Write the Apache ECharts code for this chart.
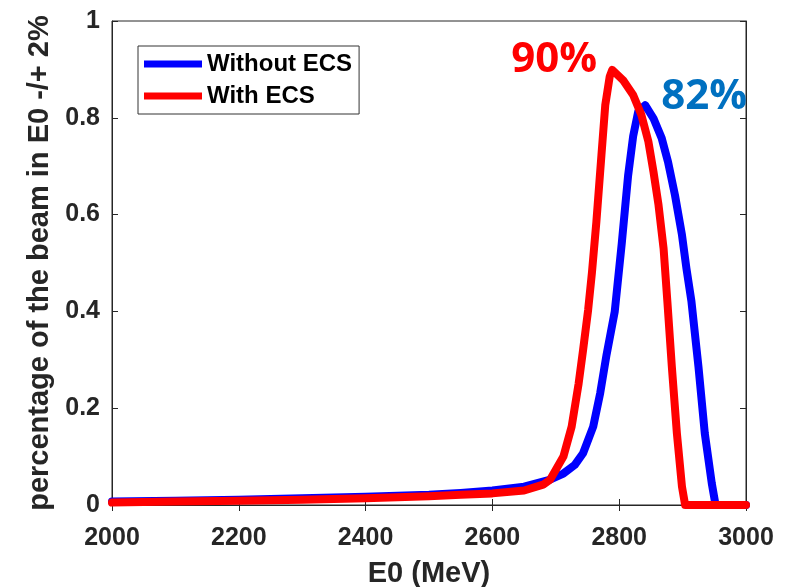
<!DOCTYPE html>
<html>
<head>
<meta charset="utf-8">
<script src="https://cdn.jsdelivr.net/npm/echarts@6/dist/echarts.min.js"></script>
<style>html,body{margin:0;padding:0;background:#fff;}#c{width:791px;height:587px;}</style>
</head>
<body>
<div id="c"></div>
<script>
// ---- data ----
const xTicks = [2000, 2200, 2400, 2600, 2800, 3000];
const yTicks = [0, 0.2, 0.4, 0.6, 0.8, 1];

const energyWithout = [2000, 2100, 2200, 2300, 2400, 2500, 2550, 2600, 2650, 2690, 2712, 2730, 2743, 2759, 2770, 2780, 2793, 2804, 2814, 2822, 2830, 2841, 2854, 2867, 2877, 2888, 2899, 2906, 2914, 2925, 2935, 2946, 2952, 2975, 3000];
const beamWithout  = [0.007, 0.009, 0.011, 0.014, 0.017, 0.021, 0.025, 0.030, 0.038, 0.052, 0.065, 0.083, 0.107, 0.162, 0.231, 0.310, 0.400, 0.540, 0.680, 0.762, 0.813, 0.826, 0.799, 0.758, 0.709, 0.640, 0.558, 0.489, 0.420, 0.286, 0.148, 0.045, 0, 0, 0];

const energyWith = [2000, 2100, 2200, 2300, 2400, 2500, 2550, 2600, 2650, 2680, 2691, 2712, 2725, 2736, 2743, 2751, 2757, 2764, 2772, 2778, 2785, 2789, 2806, 2822, 2835, 2846, 2854, 2862, 2870, 2876, 2883, 2891, 2899, 2904, 2950, 3000];
const beamWith   = [0.005, 0.007, 0.009, 0.011, 0.014, 0.018, 0.021, 0.024, 0.030, 0.042, 0.052, 0.100, 0.162, 0.251, 0.320, 0.403, 0.480, 0.585, 0.723, 0.826, 0.885, 0.899, 0.878, 0.847, 0.806, 0.751, 0.689, 0.620, 0.530, 0.420, 0.286, 0.148, 0.038, 0, 0, 0];

const seriesNames = ['Without ECS', 'With ECS'];
const peakLabels = ['82%', '90%'];

const pairs = (xs, ys) => xs.map((x, i) => [x, ys[i]]);

const axisColor = '#262626';
const tickFont = {fontFamily: 'Liberation Sans, Arial, sans-serif', fontWeight: 'bold', fontSize: 25, color: axisColor};

const chart = echarts.init(document.getElementById('c'), null, {renderer: 'canvas'});
chart.setOption({
  backgroundColor: '#ffffff',
  animation: false,
  grid: {left: 112, right: 45, top: 21, bottom: 82, show: true, borderColor: axisColor, borderWidth: 1, backgroundColor: 'transparent', containLabel: false, outerBoundsMode: 'none'},
  legend: {
    left: 138, top: 46, orient: 'vertical',
    data: seriesNames,
    icon: 'rect', itemWidth: 58, itemHeight: 7, itemGap: 8, itemTextGap: 6,
    padding: [6, 7, 6, 6],
    borderColor: '#333', borderWidth: 1, backgroundColor: '#fff',
    textStyle: {fontFamily: 'Liberation Sans, Arial, sans-serif', fontWeight: 'bold', fontSize: 24, color: '#000', lineHeight: 24}
  },
  xAxis: [{
    type: 'value', min: 2000, max: 3000, interval: 200,
    name: 'E0 (MeV)', nameLocation: 'middle', nameGap: 54,
    nameTextStyle: {fontFamily: 'Liberation Sans, Arial, sans-serif', fontWeight: 'bold', fontSize: 29, color: axisColor},
    axisLine: {show: true, onZero: false, lineStyle: {color: axisColor}},
    axisTick: {show: true, inside: true, length: 6, lineStyle: {color: axisColor}},
    axisLabel: Object.assign({margin: 21, formatter: v => xTicks.includes(v) ? String(v) : ''}, tickFont),
    splitLine: {show: false}
  }, {
    type: 'value', min: 2000, max: 3000, interval: 200, position: 'top',
    axisLine: {show: true, lineStyle: {color: axisColor}},
    axisTick: {show: true, inside: true, length: 6, lineStyle: {color: axisColor}},
    axisLabel: {show: false}, splitLine: {show: false}
  }],
  yAxis: [{
    type: 'value', min: 0, max: 1, interval: 0.2,
    name: 'percentage of the beam in E0 -/+ 2%', nameLocation: 'middle', nameGap: 45,
    nameTextStyle: {fontFamily: 'Liberation Sans, Arial, sans-serif', fontWeight: 'bold', fontSize: 29, color: axisColor},
    axisLine: {show: true, onZero: false, lineStyle: {color: axisColor}},
    axisTick: {show: true, inside: true, length: 6, lineStyle: {color: axisColor}},
    axisLabel: Object.assign({margin: 12, formatter: v => { const t = yTicks.find(k => Math.abs(k - v) < 1e-9); return t === undefined ? '' : String(t); }}, tickFont),
    splitLine: {show: false}
  }, {
    type: 'value', min: 0, max: 1, interval: 0.2, position: 'right',
    axisLine: {show: true, lineStyle: {color: axisColor}},
    axisTick: {show: true, inside: true, length: 6, lineStyle: {color: axisColor}},
    axisLabel: {show: false}, splitLine: {show: false}
  }],
  series: [{
    name: seriesNames[0], type: 'line', xAxisIndex: 0, yAxisIndex: 0,
    data: pairs(energyWithout, beamWithout),
    showSymbol: false, symbol: 'none', clip: false,
    lineStyle: {color: '#0000ff', width: 8, cap: 'round', join: 'round'},
    itemStyle: {color: '#0000ff'},
    z: 2
  }, {
    name: seriesNames[1], type: 'line', xAxisIndex: 0, yAxisIndex: 0,
    data: pairs(energyWith, beamWith),
    showSymbol: false, symbol: 'none', clip: false,
    lineStyle: {color: '#ff0000', width: 8, cap: 'round', join: 'round'},
    itemStyle: {color: '#ff0000'},
    z: 3
  }]
});

// peak annotations positioned from data coordinates
function placeLabels() {
  const pW = chart.convertToPixel({xAxisIndex: 0, yAxisIndex: 0}, [2841, 0.826]);
  const pR = chart.convertToPixel({xAxisIndex: 0, yAxisIndex: 0}, [2789, 0.899]);
  chart.setOption({
    graphic: [{
      type: 'text', x: pR[0] - 58, y: pR[1] - 10, z: 10,
      style: {text: peakLabels[1], fill: '#ff0000', font: 'bold 42px "Open Sans", sans-serif', textAlign: 'center', textVerticalAlign: 'middle'}
    }, {
      type: 'text', x: pW[0] + 59, y: pW[1] - 8, z: 10,
      style: {text: peakLabels[0], fill: '#0070c0', font: 'bold 42px "Open Sans", sans-serif', textAlign: 'center', textVerticalAlign: 'middle'}
    }]
  });
}
placeLabels();
</script>
</body>
</html>
